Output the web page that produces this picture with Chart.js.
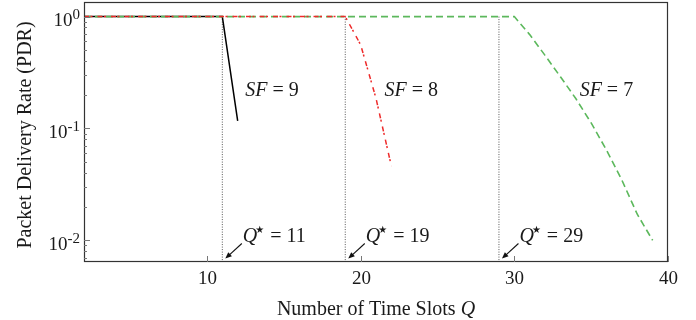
<!DOCTYPE html>
<html lang="en">
<head>
<meta charset="UTF-8">
<title>PDR vs Number of Time Slots</title>
<script src="https://cdn.jsdelivr.net/npm/chart.js"></script>
<style>
    html, body { margin: 0; padding: 0; background: #fff; }
    .chart-container { position: relative; width: 696px; height: 320px; }
</style>
</head>
<body>
<div class="chart-container">
    <canvas id="myChart"></canvas>
</div>
<script>
// SF = 9 curve
const sf9Slots = [2, 3, 4, 5, 6, 7, 8, 9, 10, 11, 12];
const sf9Pdr = [1, 1, 1, 1, 1, 1, 1, 1, 1, 1, 0.117];

// SF = 8 curve
const sf8Slots = [2, 3, 4, 5, 6, 7, 8, 9, 10, 11, 12, 13, 14, 15, 16, 17, 18, 19, 20, 21, 22];
const sf8Pdr = [1, 1, 1, 1, 1, 1, 1, 1, 1, 1, 1, 1, 1, 1, 1, 1, 1, 1, 0.56, 0.186, 0.046];

// SF = 7 curve
const sf7Slots = [2, 3, 4, 5, 6, 7, 8, 9, 10, 11, 12, 13, 14, 15, 16, 17, 18, 19, 20,
                  21, 22, 23, 24, 25, 26, 27, 28, 29, 30, 31, 32, 33, 34, 35, 36, 37, 38, 39];
const sf7Pdr = [1, 1, 1, 1, 1, 1, 1, 1, 1, 1, 1, 1, 1, 1, 1, 1, 1, 1, 1,
                1, 1, 1, 1, 1, 1, 1, 1, 1, 1, 0.69, 0.45, 0.29, 0.185, 0.112, 0.064, 0.0345, 0.0171, 0.0100];

// optimal number of slots per SF
const qStar = [11, 19, 29];
const sfNames = ['9', '8', '7'];

// axes
const xTicks = [10, 20, 30, 40];
const yTicks = [1, 0.1, 0.01];
const yTickExp = ['0', '-1', '-2'];
const xTitle = 'Number of Time Slots ';
const yTitle = 'Packet Delivery Rate (PDR)';

const SERIF = '"Liberation Serif", "Times New Roman", serif';
const Y_MIN = 0.0064, Y_MAX = 1.35;

function pts(xs, ys) {
    return xs.map((q, i) => ({ x: q, y: ys[i] }));
}

// draw a run of text pieces left to right
function drawParts(ctx, parts, x, y) {
    let cx = x;
    parts.forEach(p => {
        ctx.font = p.font;
        ctx.fillText(p.text, cx, y - (p.dy || 0));
        cx += ctx.measureText(p.text).width + (p.gap || 0);
    });
    return cx;
}

const decorPlugin = {
    id: 'decor',
    afterDraw(chart) {
        const { ctx, chartArea: a, scales } = chart;
        const xs = scales.x, ys = scales.y;
        ctx.save();

        // frame
        ctx.strokeStyle = '#333';
        ctx.lineWidth = 1.2;
        ctx.strokeRect(a.left + 0.5, a.top + 0.5, a.right - a.left - 1, a.bottom - a.top - 1);

        // x ticks (inward, bottom only)
        ctx.strokeStyle = '#777';
        ctx.lineWidth = 1;
        ctx.fillStyle = '#1a1a1a';
        ctx.textAlign = 'center';
        ctx.textBaseline = 'alphabetic';
        ctx.font = '19px ' + SERIF;
        xTicks.forEach(v => {
            const px = Math.round(xs.getPixelForValue(v)) + 0.5;
            ctx.beginPath();
            ctx.moveTo(px, a.bottom);
            ctx.lineTo(px, a.bottom - 6);
            ctx.stroke();
            ctx.fillText(String(v), px, a.bottom + 22);
        });

        // y ticks (major + minor, inward, left only)
        for (let k = -3; k <= 0; k++) {
            for (let m = 1; m <= 9; m++) {
                const v = m * Math.pow(10, k);
                if (v < Y_MIN || v > Y_MAX) continue;
                const py = Math.round(ys.getPixelForValue(v)) + 0.5;
                ctx.beginPath();
                ctx.moveTo(a.left, py);
                ctx.lineTo(a.left + (m === 1 ? 6 : 3), py);
                ctx.stroke();
            }
        }
        ctx.textAlign = 'left';
        yTicks.forEach((v, i) => {
            const py = ys.getPixelForValue(v);
            ctx.font = '15px ' + SERIF;
            const ew = ctx.measureText(yTickExp[i]).width;
            ctx.font = '19px ' + SERIF;
            const bw = ctx.measureText('10').width;
            const x0 = a.left - 4 - ew - bw;
            ctx.fillText('10', x0, py + 9.5);
            ctx.font = '15px ' + SERIF;
            ctx.fillText(yTickExp[i], x0 + bw, py + 2.5);
        });

        // axis titles
        ctx.font = '20px ' + SERIF;
        const tw = ctx.measureText(xTitle).width;
        ctx.font = 'italic 20px ' + SERIF;
        const qw = ctx.measureText('Q').width;
        const xc = (a.left + a.right) / 2;
        drawParts(ctx, [
            { text: xTitle, font: '20px ' + SERIF },
            { text: 'Q', font: 'italic 20px ' + SERIF }
        ], xc - (tw + qw) / 2, 315);

        ctx.save();
        ctx.translate(31, (a.top + a.bottom) / 2 + 3);
        ctx.rotate(-Math.PI / 2);
        ctx.textAlign = 'center';
        ctx.font = '20px ' + SERIF;
        ctx.fillText(yTitle, 0, 0);
        ctx.restore();

        // Q* annotations with arrows
        ctx.textAlign = 'left';
        qStar.forEach(q => {
            const px = xs.getPixelForValue(q);
            const tipX = px + 3, tipY = a.bottom - 3.5;
            const tailX = px + 19.5, tailY = a.bottom - 18.5;
            ctx.strokeStyle = '#111';
            ctx.fillStyle = '#111';
            ctx.lineWidth = 1.1;
            ctx.beginPath();
            ctx.moveTo(tailX, tailY);
            ctx.lineTo(tipX + 3, tipY - 2.7);
            ctx.stroke();
            const ang = Math.atan2(tipY - tailY, tipX - tailX);
            ctx.beginPath();
            ctx.moveTo(tipX, tipY);
            ctx.lineTo(tipX - 7 * Math.cos(ang - 0.4), tipY - 7 * Math.sin(ang - 0.4));
            ctx.lineTo(tipX - 7 * Math.cos(ang + 0.4), tipY - 7 * Math.sin(ang + 0.4));
            ctx.closePath();
            ctx.fill();
            ctx.fillStyle = '#1a1a1a';
            drawParts(ctx, [
                { text: 'Q', font: 'italic 20px ' + SERIF, gap: -2 },
                { text: '\u2605', font: '10px "DejaVu Sans", sans-serif', dy: 9, gap: 1 },
                { text: ' = ' + q, font: '20px ' + SERIF }
            ], px + 20.5, a.bottom - 20);
        });

        // SF labels next to each curve
        const sfAt = [12.5, 21.55, 34.25];
        sfNames.forEach((s, i) => {
            const px = xs.getPixelForValue(sfAt[i]);
            const py = ys.getPixelForValue(0.196);
            drawParts(ctx, [
                { text: 'SF', font: 'italic 20px ' + SERIF },
                { text: ' = ' + s, font: '20px ' + SERIF }
            ], px, py);
        });

        ctx.restore();
    }
};

const dotted = qStar.map(q => ({
    data: [{ x: q, y: 1 }, { x: q, y: Y_MIN }],
    borderColor: '#555',
    borderWidth: 1,
    borderDash: [1, 1.5],
    pointRadius: 0
}));

new Chart(document.getElementById('myChart').getContext('2d'), {
    type: 'line',
    data: {
        datasets: [
            {
                label: 'SF = 8',
                data: pts(sf8Slots, sf8Pdr),
                borderColor: '#ee2a2a',
                borderWidth: 1.5,
                borderDash: [5, 1.5, 2, 5],
                pointRadius: 0
            },
            {
                label: 'SF = 7',
                data: pts(sf7Slots, sf7Pdr),
                borderColor: '#5cb85c',
                borderWidth: 1.6,
                borderDash: [7, 4],
                pointRadius: 0
            },
            {
                label: 'SF = 9',
                data: pts(sf9Slots, sf9Pdr),
                borderColor: '#000',
                borderWidth: 1.5,
                pointRadius: 0
            },
            ...dotted
        ]
    },
    options: {
        responsive: true,
        maintainAspectRatio: false,
        animation: false,
        layout: { padding: { left: 84, right: 28, top: 2, bottom: 58 } },
        scales: {
            x: { type: 'linear', min: 2, max: 40, display: false },
            y: { type: 'logarithmic', min: Y_MIN, max: Y_MAX, display: false }
        },
        plugins: {
            legend: { display: false },
            tooltip: { enabled: false }
        }
    },
    plugins: [decorPlugin]
});
</script>
</body>
</html>
